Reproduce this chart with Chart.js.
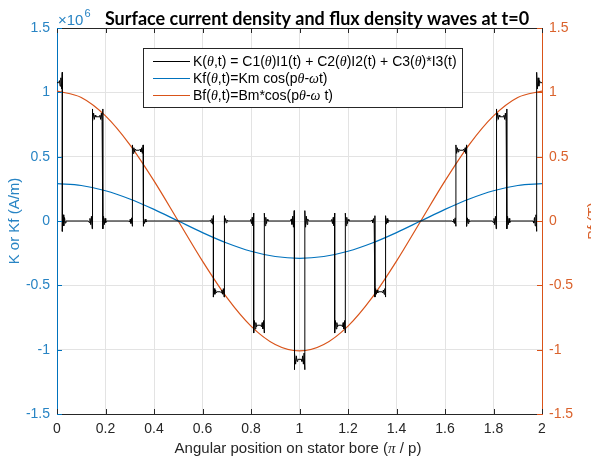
<!DOCTYPE html>
<html>
<head>
<meta charset="utf-8">
<script src="https://cdn.jsdelivr.net/npm/chart.js@4.4.1/dist/chart.umd.min.js"></script>
<style>
  html, body { margin: 0; padding: 0; background: #fff; overflow: hidden; }
  canvas { display: block; }
</style>
</head>
<body>
<canvas id="myChart" width="591" height="462"></canvas>
<script>
// valores (K y Kf en unidades de 10^6 A/m, Bf en T)
const xSamples = [0, 0.1, 0.2, 0.3, 0.4, 0.5, 0.6, 0.7, 0.8, 0.9, 1.0, 1.1, 1.2, 1.3, 1.4, 1.5, 1.6, 1.7, 1.8, 1.9, 2.0];
const kfValues = [0.29, 0.276, 0.235, 0.171, 0.09, 0, -0.09, -0.171, -0.235, -0.276, -0.29, -0.276, -0.235, -0.171, -0.09, 0, 0.09, 0.171, 0.235, 0.276, 0.29];
const bfValues = [1.01, 0.96, 0.817, 0.594, 0.312, 0, -0.312, -0.594, -0.817, -0.96, -1.01, -0.96, -0.817, -0.594, -0.312, 0, 0.312, 0.594, 0.817, 0.96, 1.01];

// K: escalones (bordes y niveles) con sobreimpulso en cada salto
const kEdges = [0.022, 0.145, 0.189, 0.311, 0.355, 0.645, 0.689, 0.811, 0.855, 0.978,
                1.022, 1.145, 1.189, 1.311, 1.355, 1.645, 1.689, 1.811, 1.855, 1.978];
const kLevels = [1.075, 0, 0.81, 0, 0.55, 0, -0.55, 0, -0.81, 0, -1.075,
                 0, -0.81, 0, -0.55, 0, 0.55, 0, 0.81, 0, 1.075];
const kOvershoot = 0.075;                       // fraccion del salto
const kRinging = [0.045, 0.035, 0.025, 0.015];  // fraccion del salto
const ringStep = 0.003;

const xTickLabels = ['0', '0.2', '0.4', '0.6', '0.8', '1', '1.2', '1.4', '1.6', '1.8', '2'];
const yTickLabels = ['-1.5', '-1', '-0.5', '0', '0.5', '1', '1.5'];

const labelK = 'K(θ,t) = C1(θ)I1(t) + C2(θ)I2(t) + C3(θ)*I3(t)';
const labelKf = 'Kf(θ,t)=Km cos(pθ-ωt)';
const labelBf = 'Bf(θ,t)=Bm*cos(pθ-ω t)';

const azul = 'rgb(0,114,189)';
const azulTexto = 'rgb(40,132,196)';
const naranja = 'rgb(217,83,25)';
const naranjaTexto = 'rgb(218,98,44)';
const gris = '#262626';

function buildK() {
  let pts = [{ x: 0, y: kLevels[0] }];
  let n = kRinging.length;
  kEdges.forEach((xe, i) => {
    let a = kLevels[i];
    let b = kLevels[i + 1];
    let salto = b - a;
    pts.push({ x: xe - (n + 1) * ringStep, y: a });
    for (let k = n; k >= 1; k--) {
      let sgn = k % 2 ? 1 : -1;
      pts.push({ x: xe - k * ringStep, y: a + sgn * kRinging[k - 1] * salto });
    }
    pts.push({ x: xe, y: a - kOvershoot * salto });
    pts.push({ x: xe, y: b + kOvershoot * salto });
    for (let k = 1; k <= n; k++) {
      let sgn = k % 2 ? -1 : 1;
      pts.push({ x: xe + k * ringStep, y: b + sgn * kRinging[k - 1] * salto });
    }
    pts.push({ x: xe + (n + 1) * ringStep, y: b });
  });
  pts.push({ x: 2, y: kLevels[kLevels.length - 1] });
  return pts;
}

function toPoints(xs, ys) {
  return xs.map((x, i) => ({ x: x, y: ys[i] }));
}

// texto con theta / omega / pi en cursiva serif, como en MATLAB
function textoMixto(ctx, texto, x, y, size) {
  for (const parte of texto.split(/([θωπ])/)) {
    if (!parte) continue;
    ctx.font = /[θωπ]/.test(parte) ? `italic ${size}px "Liberation Serif"` : `${size}px "Liberation Sans"`;
    ctx.fillText(parte, x, y);
    x += ctx.measureText(parte).width;
  }
  return x;
}

function anchoMixto(ctx, texto, size) {
  let w = 0;
  for (const parte of texto.split(/([θωπ])/)) {
    if (!parte) continue;
    ctx.font = /[θωπ]/.test(parte) ? `italic ${size}px "Liberation Serif"` : `${size}px "Liberation Sans"`;
    w += ctx.measureText(parte).width;
  }
  return w;
}

const extras = {
  id: 'extras',
  afterDraw(chart) {
    const ctx = chart.ctx;
    const area = chart.chartArea;
    const sx = chart.scales.x;
    const sy = chart.scales.y;
    ctx.save();

    // marco superior
    ctx.strokeStyle = gris;
    ctx.lineWidth = 1;
    ctx.beginPath();
    ctx.moveTo(area.left, area.top + 0.5);
    ctx.lineTo(area.right, area.top + 0.5);
    ctx.stroke();

    // marcas hacia dentro
    for (const t of sx.ticks) {
      let px = Math.round(sx.getPixelForValue(t.value)) + 0.5;
      ctx.strokeStyle = gris;
      ctx.beginPath();
      ctx.moveTo(px, area.top); ctx.lineTo(px, area.top + 5);
      ctx.moveTo(px, area.bottom); ctx.lineTo(px, area.bottom - 5);
      ctx.stroke();
    }
    for (const t of sy.ticks) {
      let py = Math.round(sy.getPixelForValue(t.value)) + 0.5;
      ctx.strokeStyle = azul;
      ctx.beginPath();
      ctx.moveTo(area.left, py); ctx.lineTo(area.left + 5, py);
      ctx.stroke();
      ctx.strokeStyle = naranja;
      ctx.beginPath();
      ctx.moveTo(area.right, py); ctx.lineTo(area.right - 5, py);
      ctx.stroke();
    }

    // leyenda
    const lx = 143, ly = 48, lw = 319, lh = 59;
    ctx.fillStyle = '#fff';
    ctx.fillRect(lx, ly, lw, lh);
    ctx.strokeStyle = gris;
    ctx.strokeRect(lx + 0.5, ly + 0.5, lw, lh);
    const filas = [61, 78, 95];
    chart.data.datasets.forEach((ds, i) => {
      ctx.strokeStyle = ds.borderColor;
      ctx.lineWidth = 1;
      ctx.beginPath();
      ctx.moveTo(153, filas[i] + 0.5);
      ctx.lineTo(190, filas[i] + 0.5);
      ctx.stroke();
      ctx.fillStyle = '#000';
      ctx.textBaseline = 'middle';
      ctx.textAlign = 'left';
      textoMixto(ctx, ds.label, 193, filas[i] + 1, 14);
    });

    // titulo
    ctx.fillStyle = '#000';
    ctx.font = 'bold 18px Lato';
    ctx.textAlign = 'center';
    ctx.textBaseline = 'alphabetic';
    ctx.fillText('Surface current density and flux density waves at t=0', 317, 25);

    // exponente del eje izquierdo
    ctx.fillStyle = azulTexto;
    ctx.textAlign = 'left';
    ctx.font = '15px "Liberation Sans"';
    ctx.fillText('×10', 58, 25);
    let finX = 58 + ctx.measureText('×10').width;
    ctx.font = '11px "Liberation Sans"';
    ctx.fillText('6', finX + 1, 17);

    // titulo eje x
    ctx.fillStyle = gris;
    ctx.textBaseline = 'middle';
    const tx = 'Angular position on stator bore (π / p)';
    textoMixto(ctx, tx, 298 - anchoMixto(ctx, tx, 15) / 2, 449, 15);

    // titulo eje derecho (queda cortado por el borde)
    ctx.translate(594, (area.top + area.bottom) / 2);
    ctx.rotate(-Math.PI / 2);
    ctx.fillStyle = naranjaTexto;
    ctx.textAlign = 'center';
    ctx.font = '15px "Liberation Sans"';
    ctx.fillText('Bf (T)', 0, 0);

    ctx.restore();
  }
};

new Chart(document.getElementById('myChart'), {
  type: 'line',
  data: {
    datasets: [
      {
        label: labelK,
        data: buildK(),
        borderColor: '#000',
        borderWidth: 1,
        pointRadius: 0,
        tension: 0,
        yAxisID: 'y'
      },
      {
        label: labelKf,
        data: toPoints(xSamples, kfValues),
        borderColor: azul,
        borderWidth: 1.2,
        pointRadius: 0,
        cubicInterpolationMode: 'monotone',
        yAxisID: 'y'
      },
      {
        label: labelBf,
        data: toPoints(xSamples, bfValues),
        borderColor: naranja,
        borderWidth: 1.2,
        pointRadius: 0,
        cubicInterpolationMode: 'monotone',
        yAxisID: 'y2'
      }
    ]
  },
  options: {
    responsive: false,
    animation: false,
    devicePixelRatio: 1,
    layout: { padding: { top: 28, right: 0, bottom: 0, left: 0 } },
    plugins: { legend: { display: false }, tooltip: { enabled: false } },
    scales: {
      x: {
        type: 'linear',
        min: 0,
        max: 2,
        afterFit: s => { s.height = 48; },
        grid: { color: '#e3e3e3', drawTicks: false },
        border: { color: gris },
        ticks: {
          stepSize: 0.2,
          padding: 7,
          color: gris,
          font: { family: 'Liberation Sans', size: 14 },
          callback: (v, i) => xTickLabels[i]
        }
      },
      y: {
        position: 'left',
        min: -1.5,
        max: 1.5,
        afterFit: s => { s.width = 57; },
        grid: { color: '#e3e3e3', drawTicks: false },
        border: { color: azul },
        ticks: {
          stepSize: 0.5,
          padding: 7,
          color: azulTexto,
          font: { family: 'Liberation Sans', size: 14 },
          callback: (v, i) => yTickLabels[i]
        },
        title: {
          display: true,
          text: 'K or Kf (A/m)',
          color: azulTexto,
          font: { family: 'Liberation Sans', size: 15 },
          padding: { top: 6, bottom: 0 }
        }
      },
      y2: {
        position: 'right',
        min: -1.5,
        max: 1.5,
        afterFit: s => { s.width = 49; },
        grid: { drawOnChartArea: false, drawTicks: false },
        border: { color: naranja },
        ticks: {
          stepSize: 0.5,
          padding: 7,
          color: naranjaTexto,
          font: { family: 'Liberation Sans', size: 14 },
          callback: (v, i) => yTickLabels[i]
        }
      }
    }
  },
  plugins: [extras]
});
</script>
</body>
</html>
